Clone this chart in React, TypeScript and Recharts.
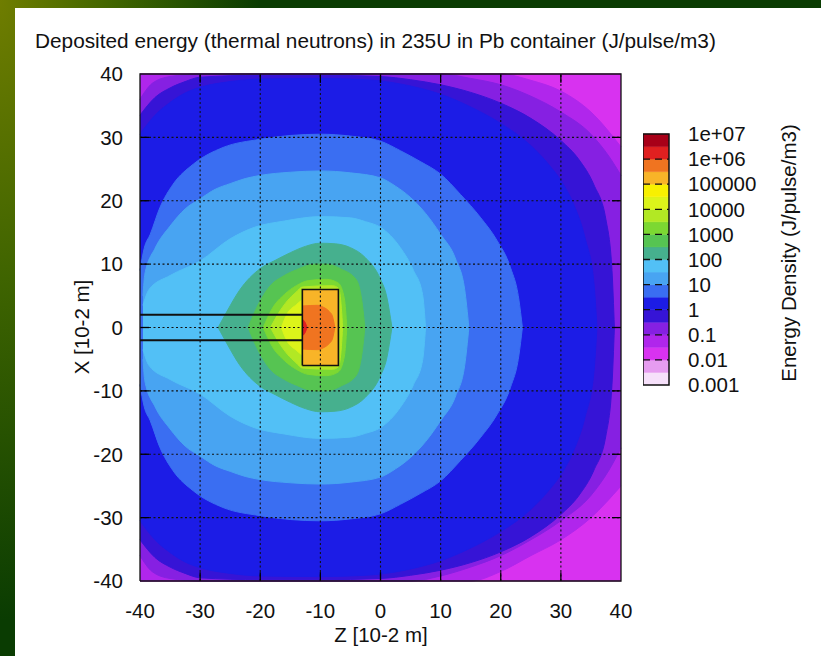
import React from 'react';
import { ComposedChart, Area, Scatter, XAxis, YAxis } from 'recharts';

// half-decade colour bands, index 0 = 0.001..0.003 up to index 19 = 3e+06..1e+07
const bandColors = [
  '#f6e0fa', '#e69cf0', '#d832f0', '#b026ec', '#8620e2', '#3614d6',
  '#1c1ce6', '#3a6ef2', '#48a4f2', '#52c0f6', '#46b08e', '#56c452',
  '#7cd832', '#b2e824', '#dcf41a', '#f8f000', '#f8b428', '#f07420', '#e02020', '#a80018',
];

const decadeLabels = ['0.001', '0.01', '0.1', '1', '10', '100', '1000', '10000', '100000', '1e+06', '1e+07'];
const axisTicks = [-40, -30, -20, -10, 0, 10, 20, 30, 40];

// contour edges as [z, upper x, lower x]; when the lower value is missing the edge is mirrored about x = 0
const magentaEdge = [[-40, 40], [40, 40]];
const violetEdge = [
  [-40, 40, -40], [15, 40, -40], [20, 40, -38.5], [25, 39, -36], [30, 37.3, -33.5], [35, 34, -30], [40, 28.5, -25],
];
const purpleEdge = [
  [-40, 36, -36], [-38, 38.5, -38.5], [-35, 39.6, -39.6], [-30, 40, -40], [5, 40, -40], [10, 40, -39.2],
  [15, 39.3, -37.8], [20, 38.3, -36], [25, 36.5, -33.5], [30, 34, -30.5], [35, 30.5, -26.5], [38, 27, -22.5],
  [40, 24, -19],
];
const indigoEdge = [
  [-40, 33.5], [-37.5, 36.3], [-35, 37.8], [-32.5, 38.8], [-30, 39.5], [-20, 39.8], [-10, 39.8], [0, 39.6],
  [5, 39.1], [10, 38.3], [15, 37.1], [20, 35.4], [25, 33], [30, 29.5], [33, 26.5], [35.5, 22.5], [37.5, 17],
  [38.5, 9], [38.9, 0],
];
const blueEdge = [
  [-40, 30.5], [-37.5, 33.5], [-35, 35.5], [-32.5, 37], [-30, 37.9], [-25, 38.8], [-20, 39.2], [-10, 39.3],
  [-5, 39.2], [0, 38.9], [5, 38.1], [10, 36.8], [15, 34.8], [20, 32.2], [25, 28.7], [28, 25.7], [30, 23.2],
  [32, 19.7], [34, 14.2], [35.5, 7], [36, 0],
];
const midBlueEdge = [
  [-40, 9], [-39.3, 12.5], [-38.3, 14.7], [-36.7, 18.9], [-34.5, 22.6], [-31.1, 25.8], [-26.2, 28.4],
  [-20, 29.7], [-15, 30.3], [-10, 30.5], [-5, 30.2], [0, 29.4], [3.3, 27.9], [6.6, 26.2], [10, 24.2],
  [13.3, 21], [16.6, 17.4], [19.4, 13.7], [21.6, 9.5], [23, 4.5], [23.6, 0],
];
const lightBlueEdge = [
  [-39.5, 5], [-39.2, 8.4], [-37.5, 12.5], [-35, 16], [-32.5, 18.7], [-30, 20.3], [-27.5, 21.8],
  [-25, 22.7], [-22.5, 23.5], [-20, 24], [-15, 24.5], [-10, 24.7], [-5, 24.4], [0, 23.6], [2.5, 22.3],
  [5, 20.5], [7.5, 18], [10, 14.7], [12.5, 10.8], [14, 6], [14.7, 0],
];
const cyanEdge = [
  [-39.5, 3.5], [-38.5, 6], [-35, 8.2], [-30, 10.5], [-25, 14], [-21, 15.8], [-16, 16.8], [-10, 17.5],
  [-5, 17.3], [-2.5, 16.7], [0, 15.8], [3.3, 12.6], [5.5, 9], [7, 5.2], [7.5, 0],
];
const tealEdge = [
  [-27, 0], [-25.5, 2.6], [-23.5, 5.8], [-20, 9.3], [-17.5, 10.6], [-15, 11.8], [-12.5, 12.8],
  [-10, 13.3], [-7.5, 13.2], [-5, 12.6], [-2.5, 11], [0, 7.6], [1, 5], [1.9, 0],
];
const greenEdge = [
  [-22, 0], [-21, 2.3], [-18.5, 6.4], [-16, 8.2], [-14, 9.1], [-11, 10], [-9, 10], [-6.5, 9.2],
  [-4, 7.5], [-3, 3.5], [-2.6, 0],
];
const brightGreenEdge = [
  [-19.5, 0], [-18, 3], [-16, 5.2], [-14, 6.6], [-12, 7.4], [-9, 7.6], [-7, 7], [-6, 4.5], [-5.6, 0],
];
const yellowGreenEdge = [
  [-18.3, 0], [-17, 2.2], [-15.5, 4.2], [-14, 5.6], [-13, 6.4], [-8, 6.6], [-7, 6.2], [-6.5, 3], [-6.3, 0],
];
const limeEdge = [[-16.5, 0], [-15.5, 2.2], [-14, 3.6], [-13, 4.4]];
const targetEdge = [[-13, 6], [-7, 6]];
const orangeEdge = [[-12.9, 3.4], [-10.5, 3.5], [-9.5, 3.2], [-8.5, 2.5], [-8, 1.8], [-7.6, 0]];
const redEdge = [[-13, 1.3], [-12.6, 0.9], [-12.2, 0]];

// beam tube walls and uranium target outline
const tubeWalls = [2, -2];
const tubeStart = -40;
const target = { z0: -13, z1: -7, x: 6 };

const contours = [
  { key: 'c2', band: 2, edge: magentaEdge, curve: 'linear' },
  { key: 'c3', band: 3, edge: violetEdge, curve: 'monotone' },
  { key: 'c4', band: 4, edge: purpleEdge, curve: 'monotone' },
  { key: 'c5', band: 5, edge: indigoEdge, curve: 'monotone' },
  { key: 'c6', band: 6, edge: blueEdge, curve: 'monotone' },
  { key: 'c7', band: 7, edge: midBlueEdge, curve: 'monotone' },
  { key: 'c8', band: 8, edge: lightBlueEdge, curve: 'monotone' },
  { key: 'c9', band: 9, edge: cyanEdge, curve: 'monotone' },
  { key: 'c10', band: 10, edge: tealEdge, curve: 'monotone' },
  { key: 'c11', band: 11, edge: greenEdge, curve: 'monotone' },
  { key: 'c12', band: 12, edge: brightGreenEdge, curve: 'monotone' },
  { key: 'c13', band: 13, edge: yellowGreenEdge, curve: 'monotone' },
  { key: 'c14', band: 14, edge: limeEdge, curve: 'monotone' },
  { key: 'c16', band: 16, edge: targetEdge, curve: 'linear' },
  { key: 'c17', band: 17, edge: orangeEdge, curve: 'monotone' },
  { key: 'c18', band: 18, edge: redEdge, curve: 'monotone' },
];

// one row per sampled z; each contour gives an [lower, upper] range or null
const sampleZ = Array.from(new Set(contours.flatMap((c) => c.edge.map((p) => p[0])))).sort((a, b) => a - b);
const heatRows = sampleZ.map((z) => {
  const row: Record<string, any> = { z };
  contours.forEach((c) => {
    const p = c.edge.find((e) => e[0] === z);
    row[c.key] = p ? [p.length > 2 ? p[2] : -p[1], p[1]] : null;
  });
  return row;
});

const colorbarRows = [0, 1].map((c) => {
  const row: Record<string, any> = { c };
  bandColors.forEach((_, i) => {
    row['b' + i] = [i / 2, (i + 1) / 2];
  });
  return row;
});

const font = '"Liberation Sans", Arial, Helvetica, sans-serif';
const tickStyle = { fill: '#111', fontSize: 20.5, fontFamily: font };
const noMarker = () => <g />;

const gridValues = axisTicks.slice(1, -1);
const tickLenZ = 1.5;
const tickLenX = 1.4;

type Pt = { z: number; x: number };
const mainLines: { key: string; pts: Pt[]; stroke: string; width: number; dash?: string }[] = [];
gridValues.forEach((g) => {
  mainLines.push({ key: 'gv' + g, pts: [{ z: g, x: -40 }, { z: g, x: 40 }], stroke: '#111', width: 1.1, dash: '2 2.5' });
  mainLines.push({ key: 'gh' + g, pts: [{ z: -40, x: g }, { z: 40, x: g }], stroke: '#111', width: 1.1, dash: '2 2.5' });
  mainLines.push({ key: 'tb' + g, pts: [{ z: g, x: -40 }, { z: g, x: -40 + tickLenX }], stroke: '#000', width: 1.3 });
  mainLines.push({ key: 'tt' + g, pts: [{ z: g, x: 40 }, { z: g, x: 40 - tickLenX }], stroke: '#000', width: 1.3 });
  mainLines.push({ key: 'tl' + g, pts: [{ z: -40, x: g }, { z: -40 + tickLenZ, x: g }], stroke: '#000', width: 1.3 });
  mainLines.push({ key: 'tr' + g, pts: [{ z: 40, x: g }, { z: 40 - tickLenZ, x: g }], stroke: '#000', width: 1.3 });
});
tubeWalls.forEach((w) => {
  mainLines.push({ key: 'tube' + w, pts: [{ z: tubeStart, x: w }, { z: target.z0, x: w }], stroke: '#111', width: 2 });
});
mainLines.push({
  key: 'target',
  pts: [
    { z: target.z0, x: -target.x }, { z: target.z0, x: target.x }, { z: target.z1, x: target.x },
    { z: target.z1, x: -target.x }, { z: target.z0, x: -target.x },
  ],
  stroke: '#111',
  width: 1.6,
});
mainLines.push({
  key: 'frame',
  pts: [{ z: -40, x: -40 }, { z: -40, x: 40 }, { z: 40, x: 40 }, { z: 40, x: -40 }, { z: -40, x: -40 }],
  stroke: '#111',
  width: 1.3,
});

const decades = [1, 2, 3, 4, 5, 6, 7, 8, 9];

const textBase: React.CSSProperties = {
  position: 'absolute',
  fontFamily: font,
  fontSize: 20.5,
  lineHeight: '20px',
  color: '#111',
  whiteSpace: 'nowrap',
};

export default function App() {
  return (
    <div
      style={{
        position: 'relative',
        width: 821,
        height: 656,
        overflow: 'hidden',
        background: 'radial-gradient(ellipse 260px 620px at 0 0, #6f7d00 0%, #3f6400 45%, #0a3c02 100%)',
      }}
    >
      <style>{'body{margin:0}'}</style>
      <div style={{ position: 'absolute', left: 15, top: 8, right: 0, bottom: 0, background: '#fff' }} />

      <div style={{ ...textBase, fontSize: 20.8, left: 35, top: 31 }}>
        Deposited energy (thermal neutrons) in 235U in Pb container (J/pulse/m3)
      </div>

      <div style={{ position: 'absolute', left: 0, top: 0 }}>
        <ComposedChart width={821} height={656} data={heatRows} margin={{ top: 74, right: 200, bottom: 15, left: 80 }}>
          <XAxis
            type="number"
            dataKey="z"
            domain={[-40, 40]}
            ticks={axisTicks}
            interval={0}
            tickLine={false}
            axisLine={false}
            height={60}
            tickMargin={16}
            tick={tickStyle}
          />
          <YAxis
            type="number"
            domain={[-40, 40]}
            ticks={axisTicks}
            interval={0}
            tickLine={false}
            axisLine={false}
            width={60}
            tickMargin={11}
            tick={tickStyle}
          />
          {contours.map((c) => (
            <Area
              key={c.key}
              type={c.curve as any}
              dataKey={c.key}
              connectNulls
              fill={bandColors[c.band]}
              fillOpacity={1}
              stroke={bandColors[c.band]}
              strokeWidth={1}
              dot={false}
              activeDot={false}
              isAnimationActive={false}
            />
          ))}
          {mainLines.map((l) => (
            <Scatter
              key={l.key}
              data={l.pts}
              dataKey="x"
              line={{ stroke: l.stroke, strokeWidth: l.width, strokeDasharray: l.dash }}
              shape={noMarker}
              legendType="none"
              isAnimationActive={false}
            />
          ))}
        </ComposedChart>
      </div>

      <div style={{ position: 'absolute', left: 643, top: 104 }}>
        <ComposedChart width={166} height={311} data={colorbarRows} margin={{ top: 30, right: 0, bottom: 30, left: 0 }}>
          <XAxis type="number" dataKey="c" domain={[0, 1]} hide />
          <YAxis
            type="number"
            orientation="right"
            domain={[0, 10]}
            ticks={decadeLabels.map((_, i) => i)}
            tickFormatter={(v: number) => decadeLabels[v]}
            interval={0}
            tickLine={false}
            axisLine={false}
            width={140}
            tickMargin={13}
            tick={tickStyle}
          />
          {bandColors.map((col, i) => (
            <Area
              key={'b' + i}
              type="linear"
              dataKey={'b' + i}
              fill={col}
              fillOpacity={1}
              stroke={col}
              strokeWidth={0.5}
              dot={false}
              activeDot={false}
              isAnimationActive={false}
            />
          ))}
          {decades.map((d) => (
            <Scatter
              key={'d' + d}
              data={[{ c: 0, v: d }, { c: 1, v: d }]}
              dataKey="v"
              line={{ stroke: '#111', strokeWidth: 1.3, strokeDasharray: '7 5' }}
              shape={noMarker}
              legendType="none"
              isAnimationActive={false}
            />
          ))}
          <Scatter
            data={[{ c: 0, v: 0 }, { c: 0, v: 10 }, { c: 1, v: 10 }, { c: 1, v: 0 }, { c: 0, v: 0 }]}
            dataKey="v"
            line={{ stroke: '#111', strokeWidth: 1.5 }}
            shape={noMarker}
            legendType="none"
            isAnimationActive={false}
          />
        </ComposedChart>
      </div>

      <div style={{ ...textBase, left: 281, top: 625, width: 200, textAlign: 'center' }}>Z [10-2 m]</div>
      <div
        style={{
          ...textBase,
          left: 82 - 100,
          top: 327 - 10,
          width: 200,
          textAlign: 'center',
          transform: 'rotate(-90deg)',
        }}
      >
        X [10-2 m]
      </div>
      <div
        style={{
          ...textBase,
          left: 789 - 150,
          top: 253 - 10,
          width: 300,
          textAlign: 'center',
          transform: 'rotate(-90deg)',
        }}
      >
        Energy Density (J/pulse/m3)
      </div>
    </div>
  );
}
